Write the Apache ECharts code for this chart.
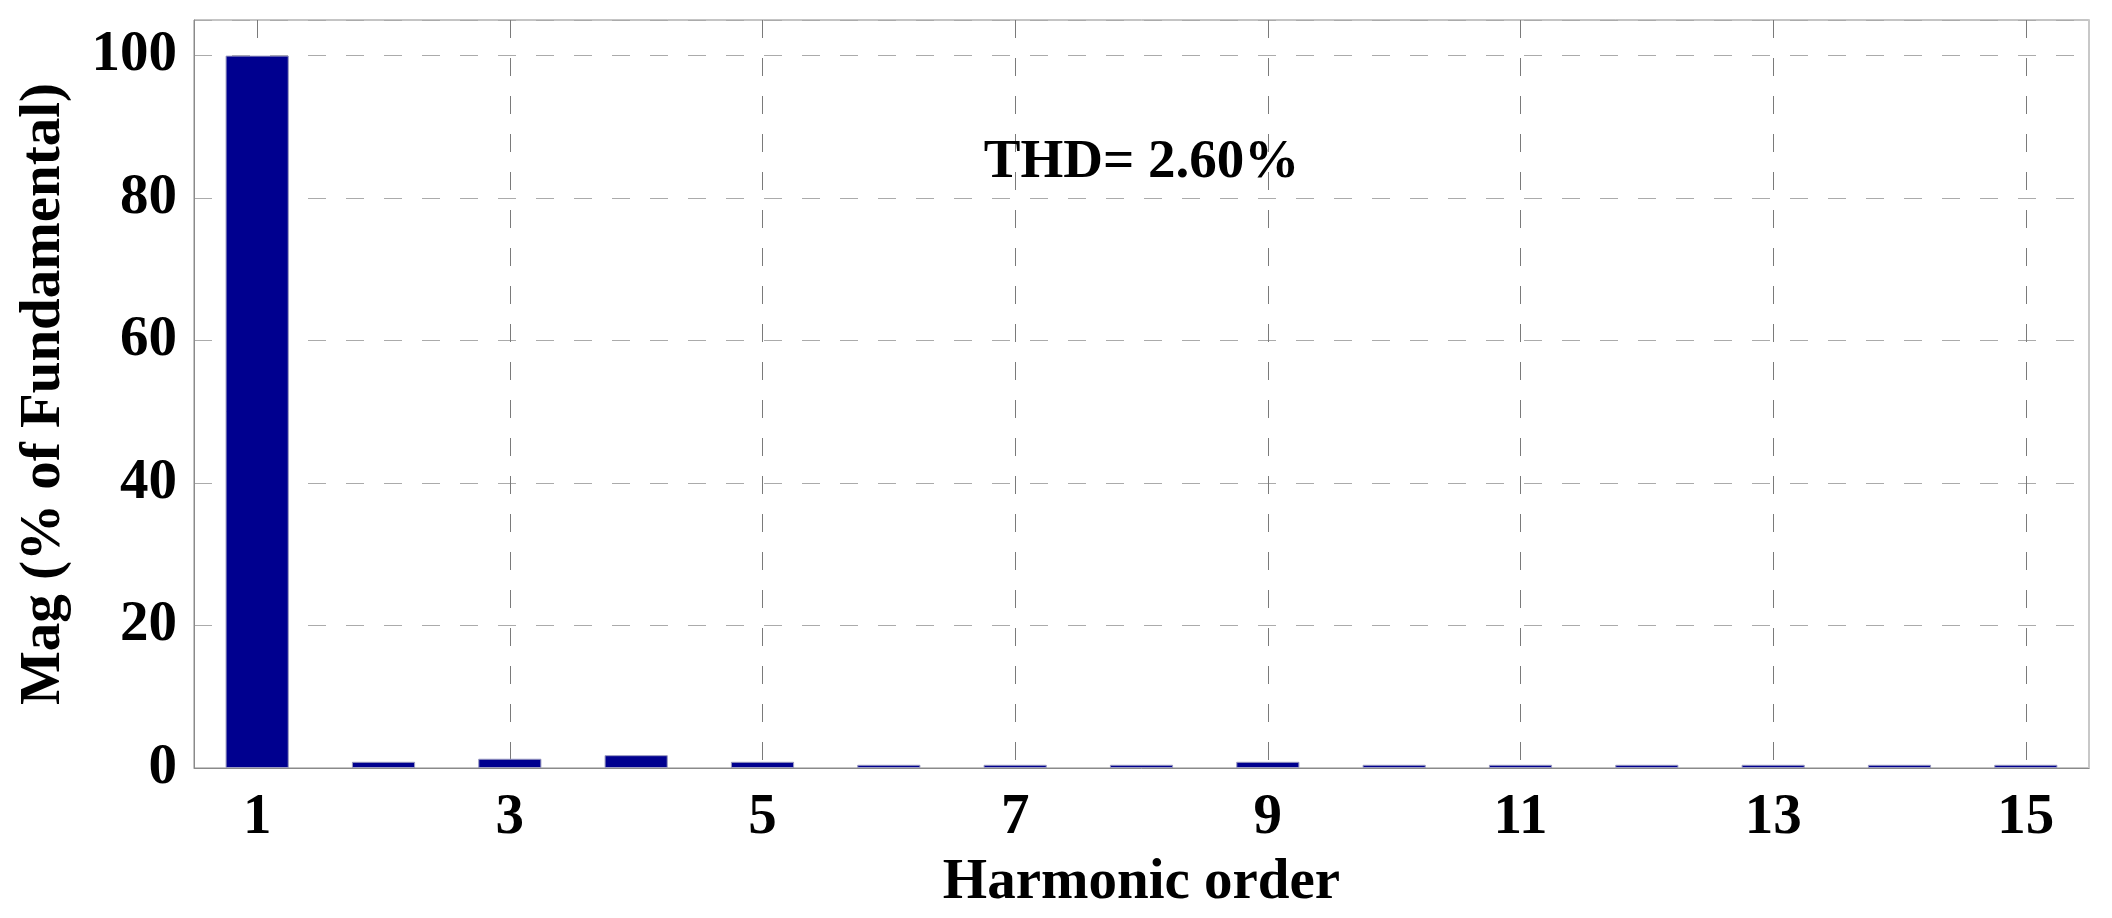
<!DOCTYPE html>
<html>
<head>
<meta charset="utf-8">
<script src="https://cdn.jsdelivr.net/npm/echarts@6/dist/echarts.min.js"></script>
<style>
html,body{margin:0;padding:0;background:#fff;}
#chart{width:2112px;height:918px;}
</style>
</head>
<body>
<div id="chart"></div>
<script>
// Data
const categories = ['1','2','3','4','5','6','7','8','9','10','11','12','13','14','15'];
const magnitudes = [100, 0.87, 1.3, 1.8, 0.87, 0.45, 0.45, 0.45, 0.87, 0.45, 0.45, 0.45, 0.45, 0.45, 0.45];
const yTicks = [0, 20, 40, 60, 80, 100];
const thdText = 'THD= 2.60%';
const thdAnchor = ['8', 85];
const xTitle = 'Harmonic order';
const yTitle = 'Mag (% of Fundamental)';

const FONT = '"Liberation Serif", "Times New Roman", serif';
const chart = echarts.init(document.getElementById('chart'), null, {renderer: 'canvas'});

const option = {
  backgroundColor: '#ffffff',
  animation: false,
  grid: {
    left: 194, top: 20, right: 23, bottom: 150,
    show: true, borderColor: '#8a8a8a', borderWidth: 1, backgroundColor: 'transparent'
  },
  xAxis: [{
    type: 'category',
    data: categories,
    boundaryGap: true,
    axisLine: {show: true, lineStyle: {color: '#8a8a8a', width: 1}},
    axisTick: {show: false},
    axisLabel: {
      interval: 1,
      margin: 22,
      fontFamily: FONT, fontSize: 57, fontWeight: 'bold', color: '#000'
    },
    splitLine: {
      show: true, interval: 1, alignWithLabel: true,
      lineStyle: {color: '#7a7a7a', width: 1, type: [18, 20]}
    },
    name: xTitle,
    nameLocation: 'middle',
    nameGap: 87,
    nameTextStyle: {fontFamily: FONT, fontSize: 57, fontWeight: 'bold', color: '#000'}
  }],
  yAxis: [{
    type: 'value',
    min: 0, max: 105, interval: 20,
    axisLine: {show: true, lineStyle: {color: '#8a8a8a', width: 1}},
    axisTick: {show: false},
    axisLabel: {
      margin: 17,
      fontFamily: FONT, fontSize: 57, fontWeight: 'bold', color: '#000',
      formatter: function (v) { return yTicks.indexOf(v) >= 0 ? String(v) : ''; }
    },
    splitLine: {show: true, lineStyle: {color: '#ababab', width: 1, type: [18, 20]}},
    name: yTitle,
    nameLocation: 'middle',
    nameGap: 121,
    nameTextStyle: {fontFamily: FONT, fontSize: 57, fontWeight: 'bold', color: '#000'}
  }, {
    type: 'value', position: 'right',
    min: 0, max: 105, interval: 20,
    axisLine: {show: true, lineStyle: {color: '#c8c8c8', width: 2}},
    axisTick: {show: false}, axisLabel: {show: false}, splitLine: {show: false}
  }],
  series: [{
    type: 'bar',
    data: magnitudes,
    barWidth: '50%',
    itemStyle: {color: '#00008F', borderColor: '#9a9ac0', borderWidth: 1},
    z: 3
  }]
};
chart.setOption(option);

const p = chart.convertToPixel({xAxisIndex: 0, yAxisIndex: 0}, thdAnchor);
chart.setOption({
  graphic: [{
    type: 'text',
    x: p[0], y: p[1],
    z: 10,
    style: {
      text: thdText,
      fontFamily: FONT, fontSize: 55, fontWeight: 'bold', fill: '#000',
      align: 'center', verticalAlign: 'middle'
    }
  }]
});
</script>
</body>
</html>
